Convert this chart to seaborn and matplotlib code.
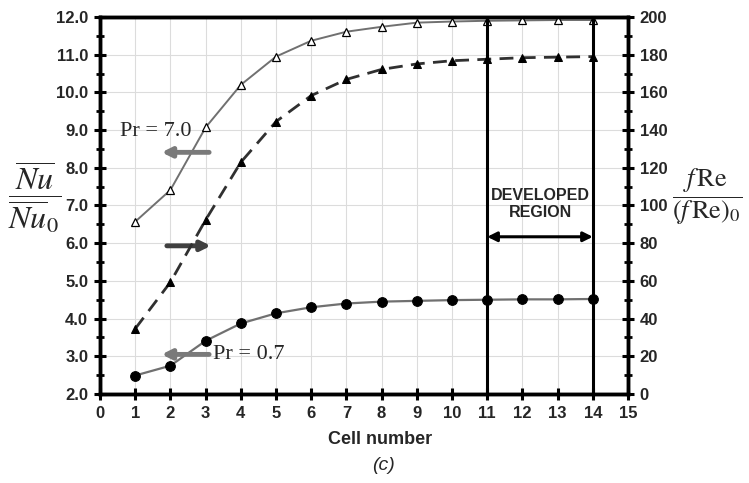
import matplotlib
matplotlib.use("Agg")
import matplotlib.pyplot as plt
import seaborn as sns
import pandas as pd
import numpy as np
from matplotlib.ticker import MultipleLocator, FormatStrFormatter

cells = [1, 2, 3, 4, 5, 6, 7, 8, 9, 10, 11, 12, 13, 14]
nu_pr70 = [6.57, 7.41, 9.07, 10.20, 10.95, 11.37, 11.61, 11.74, 11.85, 11.88, 11.90, 11.91, 11.92, 11.92]
nu_pr07 = [2.49, 2.75, 3.41, 3.87, 4.14, 4.30, 4.40, 4.45, 4.47, 4.49, 4.50, 4.51, 4.51, 4.52]
fre = [34.6, 59.3, 92.3, 122.9, 144.5, 158.3, 166.9, 172.2, 175.1, 176.8, 177.6, 178.4, 178.7, 179.0]
left_ticks = [2.0, 3.0, 4.0, 5.0, 6.0, 7.0, 8.0, 9.0, 10.0, 11.0, 12.0]
right_ticks = [0, 20, 40, 60, 80, 100, 120, 140, 160, 180, 200]
x_ticks = list(range(0, 16))

df = pd.DataFrame({"cell": cells, "nu70": nu_pr70, "nu07": nu_pr07, "fre": fre})

sns.set_theme(style="white")
plt.rcParams['font.family'] = ['Liberation Sans', 'DejaVu Sans']
plt.rcParams['mathtext.fontset'] = 'stix'

fig = plt.figure(figsize=(7.49, 4.83), dpi=100)
ax = fig.add_axes([0.1335, 0.1843, 0.8385 - 0.1335, 0.9648 - 0.1843])
ax2 = ax.twinx()

ax.set_xlim(0, 15)
ax.set_ylim(2, 12)
ax2.set_ylim(0, 200)

ax.grid(True, which='major', color='#dcdcdc', lw=0.8)
ax.set_axisbelow(True)

sns.lineplot(data=df, x="cell", y="nu70", ax=ax, color='#707070', lw=1.4,
             marker='^', markersize=6, markerfacecolor='white',
             markeredgecolor='black', markeredgewidth=0.9, zorder=3)
sns.lineplot(data=df, x="cell", y="nu07", ax=ax, color='#707070', lw=1.6,
             marker='o', markersize=7, markerfacecolor='black',
             markeredgecolor='black', zorder=3)
sns.lineplot(data=df, x="cell", y="fre", ax=ax2, color='#303030', lw=2.0,
             linestyle=(0, (5, 3)), marker='^', markersize=6,
             markerfacecolor='black', markeredgecolor='black', zorder=3)

for a in (ax, ax2):
    a.set_xlabel("")
    a.set_ylabel("")
    for s in a.spines.values():
        s.set_visible(True)
        s.set_color('black')
        s.set_linewidth(2.5)

ax.set_xticks(x_ticks)
ax.set_yticks(left_ticks)
ax.yaxis.set_major_formatter(FormatStrFormatter('%.1f'))
ax.yaxis.set_minor_locator(MultipleLocator(0.5))
ax2.set_yticks(right_ticks)
ax2.yaxis.set_minor_locator(MultipleLocator(10))

ax.tick_params(axis='both', which='major', direction='inout', length=9, width=2.2,
               color='black', labelsize=12, pad=4, left=True, bottom=True)
ax.tick_params(axis='y', which='minor', direction='inout', length=6, width=2, color='black', left=True)
ax2.tick_params(axis='y', which='major', direction='inout', length=9, width=2.2,
                color='black', labelsize=12, pad=4, right=True)
ax2.tick_params(axis='y', which='minor', direction='inout', length=6, width=2, color='black', right=True)
for lab in ax.get_xticklabels() + ax.get_yticklabels() + ax2.get_yticklabels():
    lab.set_fontweight('bold')

# developed region
for xv in (11, 14):
    ax.plot([xv, xv], [2, 12], color='black', lw=2.2, zorder=4, clip_on=False)
ax.annotate('', xy=(14, 6.17), xytext=(11, 6.17),
            arrowprops=dict(arrowstyle='<|-|>', color='black', lw=2.2,
                            mutation_scale=14, shrinkA=0, shrinkB=0), zorder=5)
ax.text(12.5, 7.05, "DEVELOPED\nREGION", ha='center', va='center',
        fontsize=11.5, fontweight='bold', linespacing=1.15)

# Pr labels and arrows
ax.text(0.57, 8.95, "Pr = 7.0", fontsize=16, family=['Liberation Serif', 'DejaVu Serif'],
        ha='left', va='center')
ax.annotate('', xy=(1.75, 8.41), xytext=(3.1, 8.41),
            arrowprops=dict(arrowstyle='-|>', color='#7a7a7a', lw=3.5,
                            mutation_scale=14, shrinkA=0, shrinkB=0))
ax.annotate('', xy=(3.15, 5.93), xytext=(1.9, 5.93),
            arrowprops=dict(arrowstyle='-|>', color='#404040', lw=3.5,
                            mutation_scale=14, shrinkA=0, shrinkB=0))
ax.annotate('', xy=(1.75, 3.05), xytext=(3.1, 3.05),
            arrowprops=dict(arrowstyle='-|>', color='#7a7a7a', lw=3.5,
                            mutation_scale=14, shrinkA=0, shrinkB=0))
ax.text(3.2, 3.05, "Pr = 0.7", fontsize=16, family=['Liberation Serif', 'DejaVu Serif'],
        ha='left', va='center')

# axis labels
fig.text(35 / 749, 1 - 197 / 483, r'$\dfrac{\overline{Nu}}{\overline{Nu}_0}$',
         fontsize=23, ha='center', va='center')
fig.text(707 / 749, 1 - 197 / 483, r'$\dfrac{f\,\mathrm{Re}}{\left(f\,\mathrm{Re}\right)_0}$',
         fontsize=19, ha='center', va='center')
fig.text(380 / 749, 1 - 440 / 483, "Cell number", fontsize=13, fontweight='bold',
         ha='center', va='center')
fig.text(383 / 749, 1 - 465 / 483, "(c)", fontsize=14, ha='center', va='center',
         fontstyle='italic')

fig.savefig("out.png", dpi=100)
